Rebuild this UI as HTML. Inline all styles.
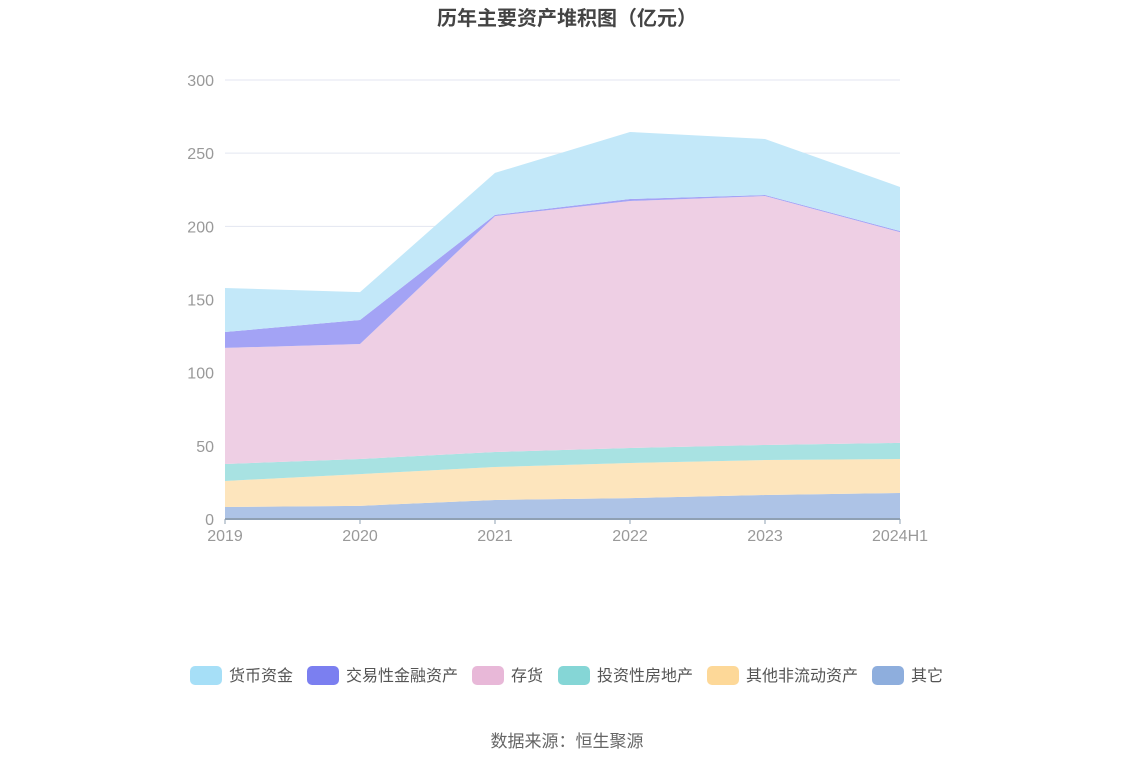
<!DOCTYPE html>
<html><head><meta charset="utf-8">
<style>
body{margin:0;width:1134px;height:766px;background:#fff;font-family:"Liberation Sans","Noto Sans CJK SC",sans-serif;overflow:hidden}
</style></head><body>
<svg width="1134" height="766" xmlns="http://www.w3.org/2000/svg">
<text x="567" y="25" text-anchor="middle" font-size="20" font-weight="bold" fill="#444" font-family="Liberation Sans,Noto Sans CJK SC,sans-serif">历年主要资产堆积图（亿元）</text>
<g id="grid"></g><g id="areas"></g><g id="axes"></g><g id="legend"></g>
<text x="567" y="747" text-anchor="middle" font-size="17" fill="#666" font-family="Liberation Sans,Noto Sans CJK SC,sans-serif">数据来源：恒生聚源</text>
</svg>
<script>
const categories=["2019","2020","2021","2022","2023","2024H1"];
const seriesNames=["其它","其他非流动资产","投资性房地产","存货","交易性金融资产","货币资金"];
const other=[8.2,9,13,14.3,16.4,17.8];
const nonCurrent=[17.8,21.7,22.5,24,23.9,23.2];
const investProp=[11.6,10.3,10.3,10.2,10.3,11];
const inventory=[79.3,78.6,161.2,168.8,170.1,144];
const trading=[10.9,16.4,0.8,1.4,0.7,0.8];
const cash=[30.1,19,28.7,45.8,38.3,30.1];
const yTicks=[0,50,100,150,200,250,300];
const NS="http://www.w3.org/2000/svg";
const x0=225,x1=900,y0=519,y1=80,ymax=300;
const xs=i=>x0+(x1-x0)*i/(categories.length-1);
const ys=v=>y0-(y0-y1)*v/ymax;
function mk(t,a,p){const e=document.createElementNS(NS,t);for(const k in a)e.setAttribute(k,a[k]);p.appendChild(e);return e;}
const grid=document.getElementById('grid'),areas=document.getElementById('areas'),axes=document.getElementById('axes'),legend=document.getElementById('legend');
yTicks.forEach(v=>{
 const l=mk('line',{x1:x0,x2:x1,y1:ys(v),y2:ys(v),stroke:'#e3e6f0'},grid);
 
 
 const t=mk('text',{x:214,y:ys(v)+6,'text-anchor':'end','font-size':16,fill:'#999'},grid);
 t.textContent=v;
 
 
});
const data=[other,nonCurrent,investProp,inventory,trading,cash];
const fills=["#adc3e6","#fde5bd","#a8e2e2","#eecfe4","#a3a3f5","#c3e8f9"];
const legendColors=["#8eaedd","#fdd898","#85d6d6","#e8b8d8","#7b7ff0","#a6dff7"];
let base=categories.map(()=>0);
data.forEach((s,k)=>{
 const top=base.map((b,i)=>b+s[i]);
 let d='M'+top.map((v,i)=>xs(i)+','+ys(v)).join('L');
 for(let i=base.length-1;i>=0;i--)d+='L'+xs(i)+','+ys(base[i]);
 const p=mk('path',{d:d+'Z',fill:fills[k]},areas);
 
 
 base=top;
});
mk('line',{x1:x0,x2:x1,y1:y0,y2:y0,stroke:'#8fa0b3','stroke-width':2},axes);
categories.forEach((c,i)=>{
 mk('line',{x1:xs(i),x2:xs(i),y1:y0,y2:y0+5,stroke:'#8fa0b3'},axes);
 const t=mk('text',{x:xs(i),y:y0+22,'text-anchor':'middle','font-size':16,fill:'#999'},axes);
 t.textContent=c;
 
 
});
const legOrder=[5,4,3,2,1,0];
const legX=[190,307,472,558,707,872];
legOrder.forEach((k,j)=>{
 const g=mk('g',{},legend);
 
 
 mk('rect',{x:legX[j],y:666,width:32,height:19,rx:5,fill:legendColors[k]},g);
 const t=mk('text',{x:legX[j]+39,y:681,'font-size':16,fill:'#555'},g);
 t.textContent=seriesNames[k];
});
</script>
</body></html>
